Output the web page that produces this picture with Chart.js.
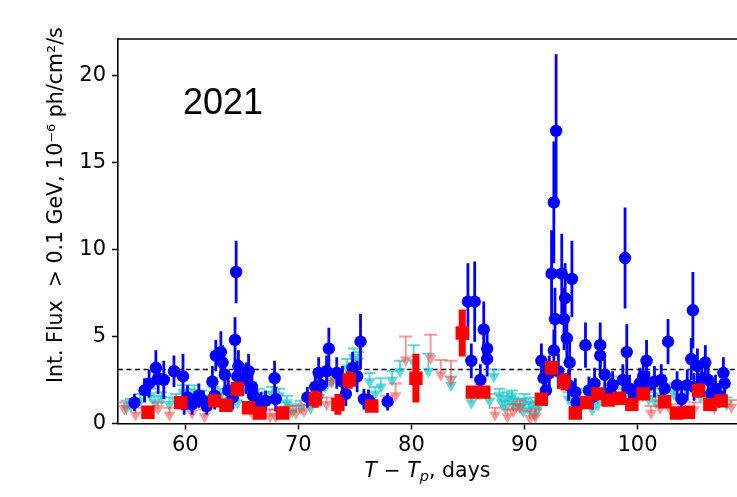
<!DOCTYPE html>
<html><head><meta charset="utf-8">
<script src="https://cdn.jsdelivr.net/npm/chart.js@4/dist/chart.umd.min.js"></script>
<style>html,body{margin:0;padding:0;background:#fff;}canvas{display:block;}</style>
</head><body>
<canvas id="c" width="737" height="497"></canvas>
<script>
// ---- data ----
const blueX   = [55.5,56.4,56.8,57.4,57.6,58.1,59.0,59.8,59.9,60.6,61.2,61.6,62.4,62.7,63.15,63.3,62.6,63.8,64.5,64.4,64.6,64.7,65.1,65.4,65.9,66.3,66.7,67.9,68.0,70.8,71.5,71.8,72.5,72.7,73.4,74.2,74.8,75.2,75.5,75.8,76.2,77.9,85.0,85.6,85.3,86.4,86.7,86.7,86.1,91.5,91.7,91.9,92.4,92.6,92.8,92.7,92.6,93.0,93.3,93.5,93.6,93.75,94.2,94.0,94.5,94.6,95.4,95.7,96.2,96.7,96.7,97.1,97.6,98.7,98.9,99.05,99.3,100.2,100.8,101.0,101.5,102.1,102.7,103.9,104.4,104.75,104.9,105.3,105.7,106.0,106.25,106.9,107.6,107.7,
                 60.2,61.9,63.5,64.2,65.6,66.0,67.1,72.0,73.9,92.2,93.9,96.0,97.8,99.8,100.5,102.4,103.5,105.0,106.5,107.2];
const blueY   = [1.2,1.9,2.3,3.2,2.6,2.5,3.0,2.7,1.1,1.1,1.6,1.3,2.4,3.9,4.1,3.5,1.6,1.9,8.7,4.8,2.7,3.3,2.5,2.6,2.1,1.4,1.2,2.6,1.4,1.5,2.1,2.9,3.0,4.3,2.9,1.7,3.2,2.7,4.7,1.4,1.35,1.25,7.0,7.0,3.6,5.4,4.3,3.7,2.5,3.6,2.6,1.9,8.6,12.7,16.8,6.0,4.2,3.0,8.6,6.0,7.2,4.9,8.3,3.5,1.8,1.2,4.5,1.9,2.3,4.5,3.9,2.8,1.8,2.5,9.5,4.1,2.0,2.3,3.6,2.2,2.4,2.5,4.7,1.4,2.2,3.7,6.5,3.3,2.6,3.5,2.5,2.0,2.9,2.3,
                 1.5,1.0,2.8,1.5,3.0,1.6,1.3,2.2,2.4,2.9,2.2,1.5,2.2,1.6,2.7,2.0,2.2,2.1,1.7,1.6];
const blueErr = [0.5,0.7,0.8,1.0,0.9,1.1,0.9,1.3,0.6,0.6,0.7,0.6,0.9,0.9,1.2,1.0,0.8,0.8,1.8,1.3,1.0,0.9,0.9,0.9,0.9,0.6,0.6,1.0,0.7,0.6,0.8,0.9,0.9,1.2,0.9,0.7,0.9,0.9,1.6,0.6,0.6,0.5,2.2,2.3,1.0,1.6,1.1,1.0,0.9,1.0,0.9,0.9,2.5,3.5,4.4,1.8,1.2,1.0,2.3,1.8,2.0,1.3,2.2,1.2,0.8,0.6,1.3,0.8,0.9,1.3,1.1,0.9,0.8,0.9,2.9,1.6,0.8,0.9,1.2,0.8,0.9,0.9,1.3,0.6,0.9,1.2,2.2,1.0,0.9,1.0,0.9,0.8,0.9,0.8,
                 0.7,0.5,0.9,0.7,1.0,0.7,0.6,0.8,0.9,1.0,0.9,0.7,0.8,0.7,1.0,0.8,0.8,0.8,0.7,0.7];

const redX   = [56.7,59.6,62.6,63.6,64.6,65.6,66.6,68.6,71.5,73.5,74.5,76.5,80.4,84.5,85.4,86.4,91.5,92.4,93.5,94.5,95.5,96.5,97.4,98.4,99.5,100.5,102.4,103.45,104.5,105.4,106.4,107.4];
const redY   = [0.65,1.2,1.3,1.05,2.0,0.9,0.6,0.6,1.4,1.1,2.5,1.0,2.6,5.2,1.8,1.8,1.4,3.2,2.4,0.6,1.2,1.7,1.35,1.45,1.1,1.7,1.25,0.6,0.65,1.9,1.1,1.3];
const redErr = [0.2,0.3,0.35,0.3,0.4,0.3,0.3,0.2,0.5,0.6,0.5,0.3,1.4,1.35,0.3,0.3,0.35,0.4,0.5,0.3,0.3,0.3,0.3,0.3,0.3,0.3,0.3,0.2,0.2,0.4,0.3,0.3];

const cyanX   = [55.2,56.0,56.9,57.9,58.6,59.8,60.8,61.4,62.0,63.1,64.0,65.0,65.8,66.5,67.2,68.3,68.9,69.5,70.2,71.1,73.0,74.3,74.9,75.3,76.3,77.3,78.3,79.0,80.2,81.5,83.5,85.3,86.9,87.3,87.8,88.0,88.5,88.9,89.3,89.6,90.0,90.4,90.9,91.2,93.9,95.0,96.0,97.7,98.8,99.8,101.0,102.0,103.2,104.2,106.8,107.9,
                   54.8,57.3,59.2,60.2,62.5,63.6,64.6,66.0,67.7,69.0,71.9,72.4,76.8,88.3,89.0,89.9,90.6,94.6,96.5,97.2,99.3,100.5,101.6,102.6,103.7,105.6,106.3,107.4];
const cyanY   = [1.0,1.3,1.6,1.4,1.1,1.8,1.8,1.45,1.2,1.6,1.5,1.9,2.0,1.6,1.4,1.6,0.8,0.7,0.9,0.9,2.4,3.2,3.8,3.6,2.4,2.1,2.5,3.0,3.5,3.0,2.2,1.2,1.3,2.7,1.6,1.2,1.4,1.55,1.0,1.0,1.3,0.8,0.5,0.9,1.4,1.0,0.8,2.3,1.6,1.4,1.4,1.6,1.7,1.6,1.0,1.1,
                   0.9,1.2,1.3,1.6,1.7,1.3,1.2,1.3,1.7,1.2,1.5,2.1,1.7,0.9,1.1,0.7,1.1,1.6,1.1,1.6,1.2,1.6,1.2,1.9,1.3,1.5,1.2,1.5];
const cyanTop = [1.4,1.7,2.0,1.8,1.5,2.2,2.2,1.9,1.6,2.0,1.9,2.3,2.4,2.0,1.8,2.0,1.2,1.1,1.3,1.3,2.8,3.7,4.3,4.1,2.9,2.6,3.0,3.6,4.5,4.0,2.7,1.6,1.7,3.1,2.0,1.6,1.8,1.9,1.4,1.4,1.7,1.2,0.9,1.3,1.8,1.4,1.2,2.7,2.0,1.8,1.8,2.0,2.1,2.0,1.4,1.5,
                   1.3,1.6,1.7,2.0,2.1,1.7,1.6,1.7,2.1,1.6,1.9,2.5,2.1,1.3,1.5,1.1,1.5,2.0,1.5,2.0,1.6,2.0,1.6,2.3,1.7,1.9,1.6,1.9];

const salmonX   = [54.6,55.6,57.6,58.6,60.6,61.7,66.0,67.5,68.0,69.2,69.8,70.5,72.5,72.9,75.0,76.0,77.8,78.6,79.5,81.7,82.6,83.5,87.4,88.5,89.0,89.6,90.5,91.0,101.2,102.0,103.0,105.0,106.8,108.3];
const salmonY   = [0.85,0.5,0.85,0.5,0.6,0.4,0.5,0.4,0.4,0.6,0.6,0.7,1.1,2.4,2.8,1.0,1.2,1.6,3.65,3.75,2.8,2.5,0.5,0.4,0.7,0.9,0.3,0.4,0.6,0.9,0.7,0.8,0.9,0.95];
const salmonTop = [1.2,0.9,1.2,0.9,1.0,0.8,0.9,0.8,0.8,1.0,1.0,1.1,1.5,2.9,3.3,1.4,1.6,2.3,5.0,5.1,3.65,3.6,0.9,0.8,1.1,1.3,0.7,0.8,1.0,1.3,1.1,1.2,1.3,1.35];

const thresholdY = 3.1;
const xTicks = [60,70,80,90,100];
const yTicks = [0,5,10,15,20];
const xRange = [54.05, 108.8];
const yRange = [0, 22.08];
const yearLabel = '2021';
const yTitle = 'Int. Flux  > 0.1 GeV, 10\u207B\u2076 ph/cm\u00B2/s';
const xTitleParts = ['T \u2212 T', 'p', ', days'];

const pts = (xs, ys) => xs.map((x, i) => ({x, y: ys[i]}));

// error bars / upper-limit stems, drawn under each dataset's markers
const errorBarPlugin = {
  id: 'errorBars',
  beforeDatasetDraw(chart, args) {
    const ds = chart.data.datasets[args.index];
    if (!ds.errLo) return;
    const {ctx, chartArea: a} = chart;
    const xs = chart.scales.x, ys = chart.scales.y;
    ctx.save();
    ctx.beginPath(); ctx.rect(a.left, a.top, a.right - a.left, a.bottom - a.top); ctx.clip();
    ctx.strokeStyle = ds.errColor; ctx.lineWidth = ds.errWidth; ctx.lineCap = 'butt';
    ds.data.forEach((p, i) => {
      const px = xs.getPixelForValue(p.x);
      const y1 = ys.getPixelForValue(ds.errLo[i]);
      const y2 = ys.getPixelForValue(ds.errHi[i]);
      ctx.beginPath(); ctx.moveTo(px, y1); ctx.lineTo(px, y2); ctx.stroke();
      if (ds.capW) {
        ctx.beginPath(); ctx.moveTo(px - ds.capW / 2, y2); ctx.lineTo(px + ds.capW / 2, y2); ctx.stroke();
      }
    });
    ctx.restore();
  }
};

const decorPlugin = {
  id: 'decor',
  afterDraw(chart) {
    const {ctx, chartArea: a} = chart;
    ctx.save();
    // top frame
    ctx.strokeStyle = '#000'; ctx.lineWidth = 1.6;
    ctx.beginPath(); ctx.moveTo(a.left, a.top); ctx.lineTo(a.right, a.top); ctx.stroke();
    // year label
    ctx.fillStyle = '#000';
    ctx.font = '36px "Liberation Sans", Arial, sans-serif';
    ctx.textBaseline = 'alphabetic'; ctx.textAlign = 'left';
    ctx.fillText(yearLabel, 183, 114);
    // y title
    ctx.font = '20.5px "DejaVu Sans"';
    ctx.translate(62, 383); ctx.rotate(-Math.PI / 2);
    ctx.fillText(yTitle, 0, 0);
    ctx.restore();
    // x title with italic symbols
    ctx.save();
    ctx.fillStyle = '#000';
    const fItal = 'italic 20.5px "DejaVu Sans"', fSub = 'italic 14.5px "DejaVu Sans"', fReg = '20.5px "DejaVu Sans"';
    ctx.font = fItal; const w1 = ctx.measureText(xTitleParts[0]).width;
    ctx.font = fSub; const w2 = ctx.measureText(xTitleParts[1]).width;
    ctx.font = fReg; const w3 = ctx.measureText(xTitleParts[2]).width;
    const cx = (a.left + a.right) / 2, base = 477;
    let x0 = cx - (w1 + w2 + w3) / 2;
    ctx.font = fItal; ctx.fillText(xTitleParts[0], x0, base); x0 += w1;
    ctx.font = fSub; ctx.fillText(xTitleParts[1], x0, base + 4); x0 += w2;
    ctx.font = fReg; ctx.fillText(xTitleParts[2], x0, base);
    ctx.restore();
  }
};

new Chart(document.getElementById('c'), {
  type: 'scatter',
  data: {
    datasets: [
      { label: 'threshold', type: 'line', data: [{x: xRange[0], y: thresholdY}, {x: xRange[1], y: thresholdY}],
        borderColor: '#000', borderWidth: 1.6, borderDash: [5, 3.5], pointRadius: 0, fill: false, order: 6, clip: 0 },
      { label: 'UL cyan', data: pts(cyanX, cyanY), pointStyle: 'triangle', rotation: 180, pointRadius: 6.8,
        backgroundColor: 'rgba(30,200,200,0.7)', borderWidth: 0, order: 5, clip: 0,
        errLo: cyanY, errHi: cyanTop, errColor: 'rgba(30,200,200,0.7)', errWidth: 2, capW: 12 },
      { label: 'UL red', data: pts(salmonX, salmonY), pointStyle: 'triangle', rotation: 180, pointRadius: 6.8,
        backgroundColor: 'rgba(245,70,70,0.55)', borderWidth: 0, order: 4, clip: 0,
        errLo: salmonY, errHi: salmonTop, errColor: 'rgba(245,70,70,0.55)', errWidth: 2, capW: 13 },
      { label: 'blue', data: pts(blueX, blueY), pointStyle: 'circle', pointRadius: 6.2,
        backgroundColor: '#0000ff', borderWidth: 0, order: 2, clip: 0,
        errLo: blueY.map((v, i) => v - blueErr[i]), errHi: blueY.map((v, i) => v + blueErr[i]),
        errColor: '#0000ff', errWidth: 2.8 },
      { label: 'red', data: pts(redX, redY), pointStyle: 'rect', pointRadius: 9.5,
        backgroundColor: '#ff0000', borderWidth: 0, order: 1, clip: 0,
        errLo: redY.map((v, i) => v - redErr[i]), errHi: redY.map((v, i) => v + redErr[i]),
        errColor: '#ff0000', errWidth: 7 }
    ]
  },
  options: {
    responsive: false, animation: false, devicePixelRatio: 1,
    layout: { autoPadding: false, padding: { top: 39, left: 0, right: 0, bottom: 0 } },
    plugins: { legend: { display: false }, tooltip: { enabled: false } },
    elements: { point: { hoverRadius: 6 } },
    scales: {
      x: {
        type: 'linear', min: xRange[0], max: xRange[1],
        afterBuildTicks: s => { s.ticks = xTicks.map(v => ({value: v})); },
        afterFit: s => { s.height = 73.5; },
        ticks: { font: { family: 'DejaVu Sans', size: 21 }, color: '#000', padding: 3, maxRotation: 0, autoSkip: false },
        grid: { display: true, drawOnChartArea: false, drawTicks: true, tickLength: 6, tickColor: '#000', tickWidth: 1.5 },
        border: { display: true, color: '#000', width: 1.6 }
      },
      y: {
        type: 'linear', min: yRange[0], max: yRange[1],
        afterBuildTicks: s => { s.ticks = yTicks.map(v => ({value: v})); },
        afterFit: s => { s.width = 118; },
        ticks: { font: { family: 'DejaVu Sans', size: 21 }, color: '#000', padding: 6 },
        grid: { display: true, drawOnChartArea: false, drawTicks: true, tickLength: 6, tickColor: '#000', tickWidth: 1.5 },
        border: { display: true, color: '#000', width: 1.6 }
      }
    }
  },
  plugins: [errorBarPlugin, decorPlugin]
});
</script>
</body></html>
